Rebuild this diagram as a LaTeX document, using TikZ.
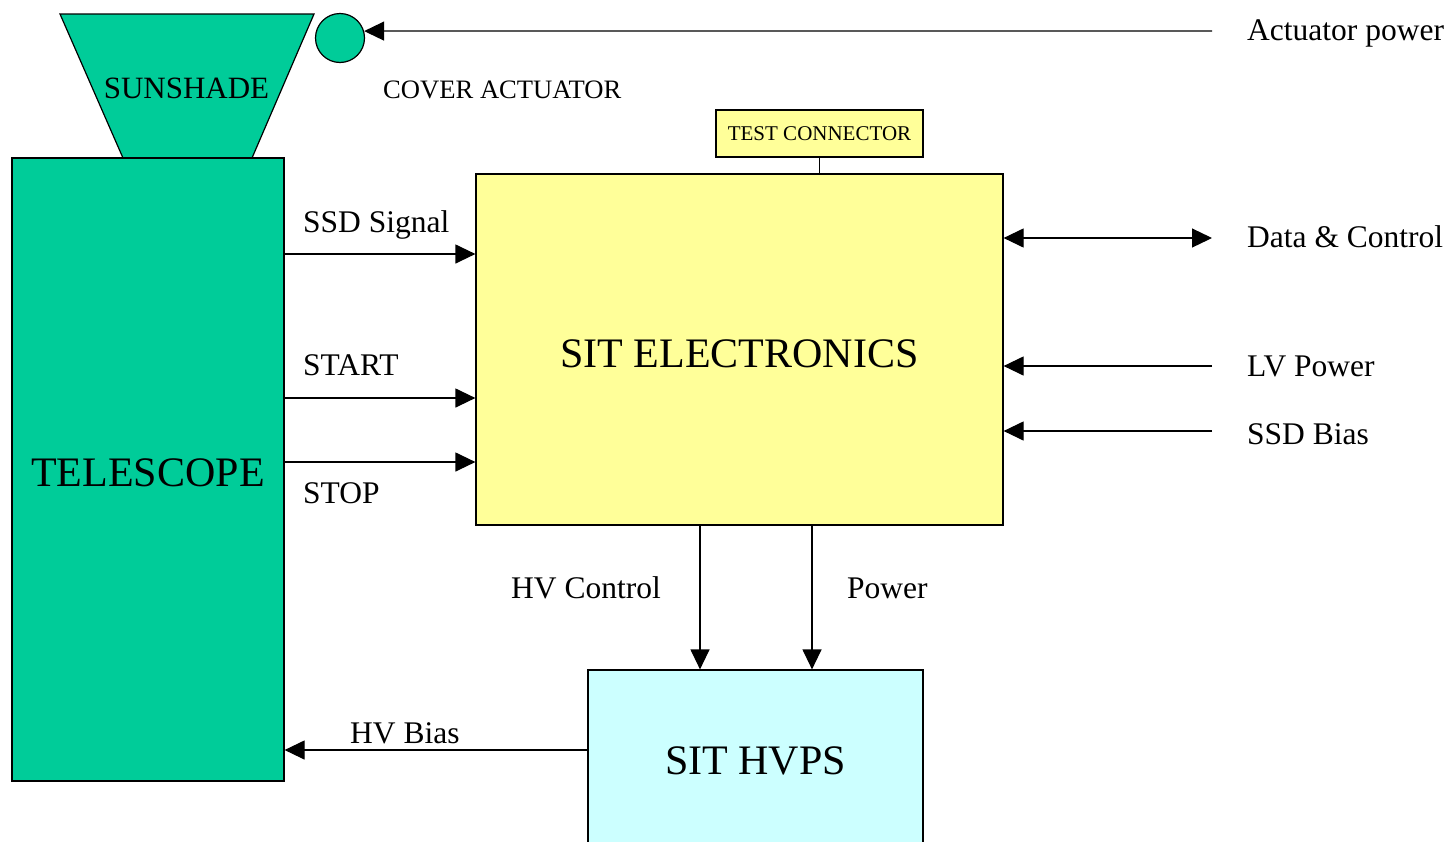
\documentclass[tikz,border=0pt]{standalone}
\usepackage{fontspec}
\setmainfont{Liberation Serif}
\usetikzlibrary{arrows.meta}
\definecolor{scopegreen}{HTML}{00CC99}
\definecolor{elecyellow}{HTML}{FFFF99}
\definecolor{hvcyan}{HTML}{CCFFFF}

\begin{document}
\begin{tikzpicture}[x=1pt,y=-1pt,
  box/.style={draw,line width=1.2pt,inner sep=0pt},
  big/.style={font=\fontsize{42}{50}\selectfont},
  tip/.tip={Triangle[length=20pt,width=19pt]},
  sig/.style={line width=1.2pt,-tip},
  lbl/.style={anchor=base west,inner sep=0pt,font=\fontsize{31.5}{36}\selectfont}]
  \clip (0,0) rectangle (1455,841);
  % sunshade and cover actuator
  \filldraw[fill=scopegreen,line width=1.2pt] (60,14) -- (314,14) -- (252,158) -- (123,158) -- cycle;
  \node[font=\fontsize{31}{36}\selectfont,inner sep=0pt] (sunshade) at (186.5,88) {SUNSHADE};
  \node[box,circle,fill=scopegreen,minimum size=49pt] (act) at (340,38) {};
  % blocks
  \node[box,big,fill=scopegreen,minimum width=272pt,minimum height=623pt,text height=34pt,text depth=0pt] (tele) at (148,469.5) {TELESCOPE};
  \node[box,big,fill=elecyellow,minimum width=527pt,minimum height=351pt,text height=35pt,text depth=0pt] (elec) at (739.5,349.5) {SIT ELECTRONICS};
  \node[box,fill=elecyellow,minimum width=207pt,minimum height=47pt,font=\fontsize{21}{25}\selectfont] (test) at (819.5,133.5) {TEST CONNECTOR};
  \node[box,big,fill=hvcyan,minimum width=335pt,minimum height=182pt] (hvps) at (755.5,761) {SIT HVPS};
  % labels
  \node[lbl] (apw) at (1247,40) {Actuator power};
  \node[lbl,font=\fontsize{26.6}{30}\selectfont] (cover) at (383,98) {COVER ACTUATOR};
  \node[lbl] (ssd) at (303,232) {SSD Signal};
  \node[lbl] (start) at (303,375) {START};
  \node[lbl] (stop) at (303,503) {STOP};
  \node[lbl] (dc) at (1247,247) {Data \& Control};
  \node[lbl] (lvp) at (1247,376) {LV Power};
  \node[lbl] (bias) at (1247,444) {SSD Bias};
  \node[lbl] (hvc) at (511,598) {HV Control};
  \node[lbl] (pwr) at (847,598) {Power};
  \node[lbl] (hvb) at (350,743) {HV Bias};
  % free ends of the outside lines
  \coordinate (apw-end) at (1212,31);
  \coordinate (dc-end) at (1212,238);
  \coordinate (lvp-end) at (1212,366);
  \coordinate (bias-end) at (1212,431);
  % connectors
  \draw[sig] (apw-end) -- (act.16);
  \draw[line width=1.5pt] (test.south) -- (test.south |- elec.north);
  \draw[sig] (tele.east |- 0,254) -- (elec.west |- 0,254);
  \draw[sig] (tele.east |- 0,398) -- (elec.west |- 0,398);
  \draw[sig] (tele.east |- 0,462) -- (elec.west |- 0,462);
  \draw[line width=1.2pt,tip-tip] (elec.east |- dc-end) -- (dc-end);
  \draw[sig] (lvp-end) -- (elec.east |- lvp-end);
  \draw[sig] (bias-end) -- (elec.east |- bias-end);
  \draw[sig] (elec.south -| 700,0) -- (hvps.north -| 700,0);
  \draw[sig] (elec.south -| 812,0) -- (hvps.north -| 812,0);
  \draw[sig] (hvps.west |- 0,750) -- (tele.east |- 0,750);
\end{tikzpicture}
\end{document}
